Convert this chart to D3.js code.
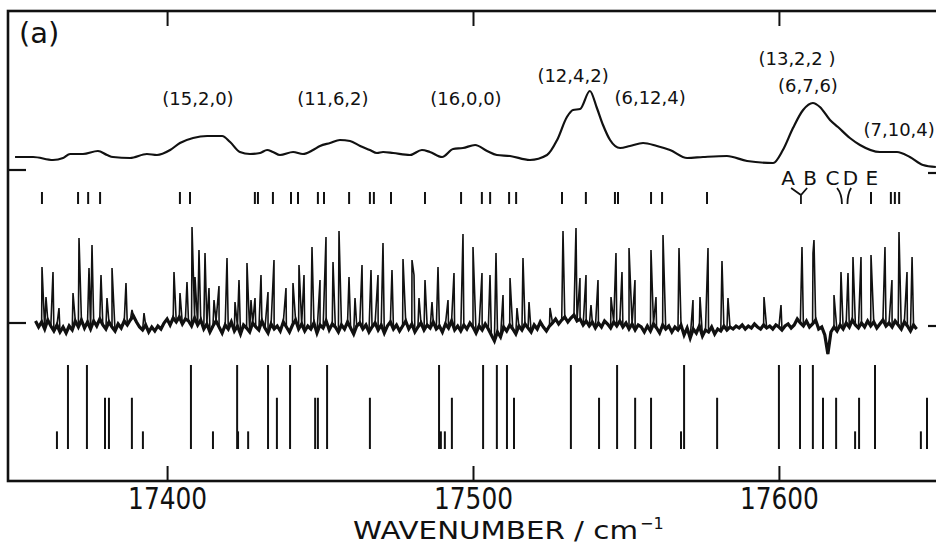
<!DOCTYPE html>
<html>
<head>
<meta charset="utf-8">
<script src="https://cdn.jsdelivr.net/npm/d3@7/dist/d3.min.js"></script>
<style>
  html, body { margin: 0; padding: 0; background: #fff; }
  svg { display: block; }
  text { font-family: "DejaVu Sans", sans-serif; fill: #111; }
</style>
</head>
<body>
<svg id="chart" width="936" height="545"></svg>
<script>
// ---------------- data ----------------
const wnDomain = [17348, 17652];
const xTickValues = [17400, 17500, 17600];

// low-resolution (top) trace: wavenumber / intensity
const lowResW = [17350.3,17356.2,17362.7,17366.0,17368.3,17372.5,17377.4,17380.4,17382.3,17387.9,17393.4,17396.7,17401.0,17404.2,17408.5,17413.1,17418.0,17420.6,17423.8,17427.1,17430.4,17432.7,17434.6,17436.9,17441.2,17444.4,17447.7,17450.0,17453.3,17456.5,17459.8,17463.1,17466.3,17468.6,17470.6,17473.9,17479.4,17483.3,17485.9,17489.9,17493.5,17496.7,17500.7,17504.6,17507.8,17512.1,17518.6,17524.2,17527.5,17530.7,17532.7,17535.0,17538.2,17540.5,17542.5,17544.8,17548.1,17551.3,17555.6,17560.1,17564.4,17570.0,17575.2,17583.0,17589.6,17598.1,17601.3,17604.6,17607.9,17611.1,17613.4,17616.7,17619.3,17623.2,17626.5,17633.0,17638.6,17642.8,17647.1,17651.3];
const lowResI = [13,13,10,12,16,16,19,15,13,12,16,15,20,27,32,34,34,28,18,16,17,20,18,15,18,16,20,24,27,30,29,24,20,17,18,17,15,20,18,13,21,22,25,19,15,14,10,15,30,53,60,61,79,62,45,30,22,24,27,24,20,12,13,14,9,7,20,42,60,67,63,50,43,32,25,18,18,13,5,3];

// band assignments above the low-resolution trace
const bandText = ["(15,2,0)","(11,6,2)","(16,0,0)","(12,4,2)","(6,12,4)","(13,2,2 )","(6,7,6)","(7,10,4)"];
const bandW    = [17410.1, 17454.2, 17497.7, 17532.7, 17557.9, 17605.9, 17609.5, 17639.3];
const bandI    = [65, 65, 65, 88, 66, 105, 78, 34];

// assignment tick row
const assignW = [17359.1,17370.9,17374.2,17378.1,17404.2,17407.5,17428.7,17429.7,17434.6,17440.5,17442.8,17449.3,17451.3,17459.5,17466.3,17467.6,17473.2,17484.3,17496.1,17502.9,17505.6,17511.8,17514.1,17529.1,17536.9,17546.4,17547.4,17558.2,17561.8,17576.5,17630.1,17636.6,17637.9,17639.3];
const letterText = ["A","B","C","D","E"];
const letterW    = [17603.0, 17610.2, 17617.5, 17623.4, 17630.4];
const yJunctionW = 17607.2;           // A,B joint tick
const cdW        = [[17619.0, 17620.6],[17623.6, 17622.4]]; // C,D curved ticks (top, bottom)

// high-resolution spectrum: sharp lines
const peakW = [17359.11,17360.42,17362.71,17364.67,17369.25,17371.21,17374.48,17375.46,17378.40,17380.36,17382.0,17386.57,17388.53,17392.46,17402.26,17404.22,17406.51,17408.15,17409.13,17410.43,17412.40,17413.70,17415.34,17416.97,17419.59,17422.20,17423.51,17426.12,17427.43,17428.74,17430.70,17432.99,17434.95,17438.87,17441.16,17443.12,17444.76,17447.37,17449.99,17451.95,17454.24,17456.20,17459.47,17461.43,17463.72,17466.66,17468.95,17470.58,17473.52,17477.12,17480.06,17480.72,17482.35,17484.31,17486.60,17488.56,17491.83,17493.79,17496.73,17500.0,17502.94,17505.56,17507.52,17509.81,17512.10,17514.38,17516.34,17518.31,17525.17,17529.42,17533.67,17534.97,17536.94,17538.57,17540.86,17545.11,17546.74,17548.70,17551.0,17552.95,17558.18,17559.82,17562.11,17567.34,17571.91,17574.2,17576.82,17581.39,17583.35,17595.12,17600.68,17607.54,17611.14,17611.46,17618.0,17620.29,17622.58,17624.21,17626.83,17630.1,17634.67,17636.95,17639.25,17641.87,17643.52];
const peakI = [56,26,51,15,30,85,55,78,48,25,55,40,13,10,51,30,41,96,46,73,70,35,23,37,65,21,43,60,23,25,48,31,63,35,40,58,48,76,43,86,61,92,46,25,58,53,48,80,53,64,63,48,25,43,21,56,23,50,89,76,50,48,70,28,45,15,65,21,15,92,95,45,48,18,43,26,70,51,75,43,73,26,88,75,23,26,75,62,25,26,18,76,70,83,28,51,50,66,66,68,76,43,91,51,66];

// high-resolution spectrum: baseline noise, one value per cm-1 from 17357
const baseStartW = 17357;
const baseNoise = [
  2,-4,1,-6,3,-3,-8,-2,-9,-4,
  -10,-3,-7,2,-4,3,-5,1,-6,2,
  -3,4,-2,-6,1,-4,-8,-1,-5,2,
  -2,3,7,1,-4,-7,-2,-9,-4,-8,
  -3,-6,0,4,-2,5,1,6,-1,4,
  2,-3,5,-2,3,-6,-1,-9,-3,2,
  -4,-10,-2,-6,1,-8,-3,-11,-2,-5,
  -9,0,-4,-7,2,-5,-10,-1,-6,-3,
  -8,1,-4,-9,-2,3,-6,-1,-8,-3,
  -6,0,-10,-2,-5,2,-7,-1,-4,-9,
  -2,-6,1,-5,-11,-3,0,-6,-2,-9,
  -4,0,-7,-2,-10,-3,1,-6,-2,-8,
  -3,2,-6,-1,-9,-4,0,-7,-2,-5,
  1,-6,-3,-9,-1,-5,2,-7,-3,-8,
  -2,-6,0,-4,-10,-3,-7,-1,-6,-12,
  -18,-9,-14,-4,-8,-2,-6,-11,-3,-7,
  -1,-5,-9,-2,-6,1,-4,-8,-3,0,
  4,-1,3,6,1,5,8,2,4,-2,
  2,-3,1,-5,0,-4,2,-1,-5,1,
  -3,2,-4,0,-6,-1,-7,-2,-4,-9,
  -3,-8,-1,-5,-10,-2,-6,-3,-9,-4,
  -7,-2,-12,-5,-15,-6,-10,-3,-13,-7,
  -9,-4,-11,-6,-8,-3,-7,-4,-6,-3,
  -5,-2,-6,-3,-5,-1,-4,-6,-2,-5,
  -3,-6,-2,-4,-7,-3,-1,-5,-2,4,
  0,-3,2,-4,-1,3,-6,-4,-12,-31,
  -9,-4,-8,-2,-6,0,-4,3,-2,-5,
  0,-4,2,-3,1,-5,-1,3,-3,0,
  -4,2,-2,-6,1,-3,-8,-2,-6
];

// calculated stick spectrum
const stickW = [17364.0,17367.6,17373.8,17379.7,17381.0,17388.5,17392.1,17407.8,17415.0,17422.9,17423.2,17426.5,17433.0,17435.9,17440.2,17448.4,17449.3,17452.3,17466.3,17488.9,17489.5,17490.8,17493.1,17503.3,17507.8,17511.1,17513.4,17532.0,17541.2,17547.1,17553.0,17558.2,17568.0,17569.0,17579.8,17600.0,17606.9,17611.1,17614.4,17618.7,17624.9,17626.2,17631.4,17646.4,17648.4];
const stickI = [21,100,100,61,61,61,21,100,21,100,21,21,100,61,100,61,61,100,61,100,21,21,61,100,100,100,61,100,61,100,61,61,21,100,61,100,100,100,61,61,21,61,100,21,61];

// ---------------- layout ----------------
const frame = {left: 8, top: 11, right: 940, bottom: 481};
const svg = d3.select("#chart");

const x = d3.scaleLinear().domain(wnDomain).range([8, 938]);
const yLow = d3.scaleLinear().domain([0, 100]).range([170, 70]);
const yHigh = d3.scaleLinear().domain([0, 100]).range([323, 223]);
const yStick = d3.scaleLinear().domain([0, 100]).range([449, 365]);

// frame
svg.append("rect")
  .attr("x", frame.left).attr("y", frame.top)
  .attr("width", frame.right - frame.left).attr("height", frame.bottom - frame.top)
  .attr("fill", "none").attr("stroke", "#111").attr("stroke-width", 2.6);

// bottom axis (ticks inward) + labels
const axB = svg.append("g").attr("transform", `translate(0,${frame.bottom})`)
  .call(d3.axisBottom(x).tickValues(xTickValues).tickSize(-15).tickFormat(d3.format("d")));
axB.select(".domain").remove();
axB.selectAll(".tick line").attr("stroke", "#111").attr("stroke-width", 2);
axB.selectAll(".tick text")
  .attr("y", 28).attr("dy", 0)
  .attr("font-size", 30)
  .attr("textLength", 79).attr("lengthAdjust", "spacingAndGlyphs")
  .attr("font-family", "DejaVu Sans").attr("fill", "#111");

// top axis (ticks inward)
const axT = svg.append("g").attr("transform", `translate(0,${frame.top})`)
  .call(d3.axisTop(x).tickValues(xTickValues).tickSize(-15).tickFormat(""));
axT.select(".domain").remove();
axT.selectAll(".tick line").attr("stroke", "#111").attr("stroke-width", 2);

// side zero ticks
[yLow(0), yHigh(0)].forEach(yy => {
  svg.append("line").attr("x1", frame.left).attr("x2", frame.left + 18)
    .attr("y1", yy).attr("y2", yy).attr("stroke", "#111").attr("stroke-width", 2.2);
  svg.append("line").attr("x1", frame.right).attr("x2", frame.right - 12)
    .attr("y1", yy + 3).attr("y2", yy + 3).attr("stroke", "#111").attr("stroke-width", 2.2);
});

// axis title
svg.append("text").attr("x", 353).attr("y", 539).attr("font-size", 25)
  .attr("font-family", "Liberation Sans")
  .attr("textLength", 285).attr("lengthAdjust", "spacingAndGlyphs")
  .text("WAVENUMBER / cm");
svg.append("text").attr("x", 640).attr("y", 529).attr("font-size", 16)
  .attr("font-family", "Liberation Sans").text("\u22121");

// panel label
svg.append("text").attr("x", 19).attr("y", 43).attr("font-size", 29).text("(a)");

// low resolution trace
const lowPts = lowResW.map((w, i) => [w, lowResI[i]]);
svg.append("path")
  .attr("d", d3.line().x(d => x(d[0])).y(d => yLow(d[1])).curve(d3.curveMonotoneX)(lowPts))
  .attr("fill", "none").attr("stroke", "#111").attr("stroke-width", 2.2);

// band labels
svg.selectAll("text.band").data(bandText).join("text")
  .attr("class", "band")
  .attr("x", (d, i) => x(bandW[i])).attr("y", (d, i) => yLow(bandI[i]))
  .attr("text-anchor", "middle").attr("font-size", 18)
  .text(d => d);

// assignment ticks
svg.selectAll("line.assign").data(assignW).join("line")
  .attr("class", "assign")
  .attr("x1", d => x(d)).attr("x2", d => x(d))
  .attr("y1", 192).attr("y2", 204)
  .attr("stroke", "#111").attr("stroke-width", 2);

// letters A-E
svg.selectAll("text.letter").data(letterText).join("text")
  .attr("class", "letter")
  .attr("x", (d, i) => x(letterW[i])).attr("y", 185)
  .attr("text-anchor", "middle").attr("font-size", 20)
  .text(d => d);

// Y-shaped connector for A,B
svg.append("path")
  .attr("d", `M${x(letterW[0]) + 3},188 L${x(yJunctionW)},195 L${x(letterW[1]) - 3},188 M${x(yJunctionW)},195 L${x(yJunctionW)},204`)
  .attr("fill", "none").attr("stroke", "#111").attr("stroke-width", 1.8);
// curved connectors for C,D
cdW.forEach(pair => {
  const x0 = x(pair[0]), x1 = x(pair[1]);
  svg.append("path")
    .attr("d", `M${x0},188 Q${x1},194 ${x1},204`)
    .attr("fill", "none").attr("stroke", "#111").attr("stroke-width", 1.8);
});

// high resolution spectrum: noise band (thicker) then full trace
const noisePts = baseNoise.map((v, i) => [baseStartW + i, v]);
const hiLine = d3.line().x(d => x(d[0])).y(d => yHigh(d[1]));
svg.append("path")
  .attr("d", hiLine(noisePts))
  .attr("fill", "none").attr("stroke", "#111").attr("stroke-width", 3.2);
const hiPts = noisePts
  .concat(peakW.map((w, i) => [w, peakI[i]]))
  .sort((a, b) => a[0] - b[0]);
svg.append("path")
  .attr("d", hiLine(hiPts))
  .attr("fill", "none").attr("stroke", "#111").attr("stroke-width", 1.6)
  .attr("stroke-linejoin", "miter").attr("stroke-miterlimit", 2);

// stick spectrum
svg.selectAll("line.stick").data(stickW).join("line")
  .attr("class", "stick")
  .attr("x1", d => x(d)).attr("x2", d => x(d))
  .attr("y1", yStick(0)).attr("y2", (d, i) => yStick(stickI[i]))
  .attr("stroke", "#111").attr("stroke-width", 2);
</script>
</body>
</html>
